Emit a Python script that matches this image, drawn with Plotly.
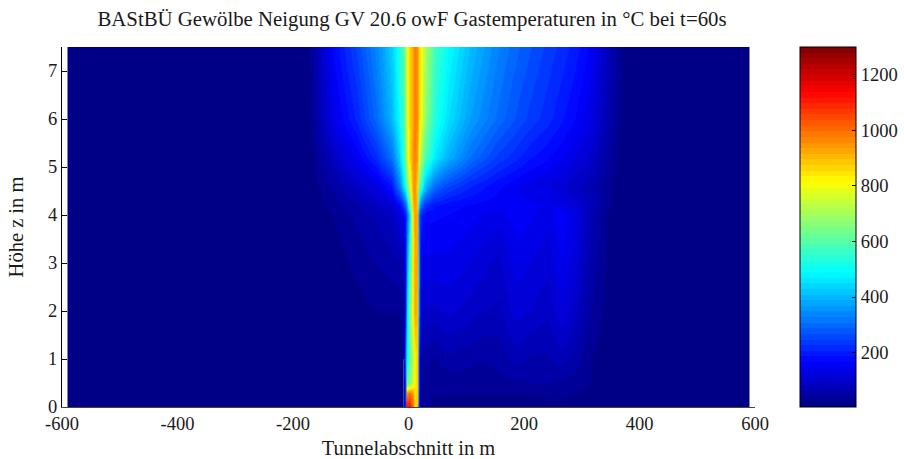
import plotly.graph_objects as go

title_text = "BAStBÜ Gewölbe Neigung GV 20.6 owF Gastemperaturen in °C bei t=60s"
x_label = "Tunnelabschnitt in m"
y_label = "Höhe z in m"
x_ticks = [-600, -400, -200, 0, 200, 400, 600]
x_tick_text = ["-600", "-400", "-200", "0", "200", "400", "600"]
y_ticks = [0, 1, 2, 3, 4, 5, 6, 7]
cbar_ticks = [200, 400, 600, 800, 1000, 1200]
t_min = 4
t_max = 1300

x_pos = [-590,-589,-300,-175,-130,-90,-55,-30,-15,-8,-6,-3,2,7,11,15,18,20,28,45,70,105,130,155,185,210,240,265,290,315,350,375,589,590]
z_pos = [0, 0.3, 0.5, 1, 2, 3, 4, 4.2, 4.6, 5.2, 6, 7.5]
row_00 = [4,4,4,4,4,4,4,4,4,20,280,1120,1120,1020,860,900,250,30,30,20,20,15,15,15,15,15,15,15,15,10,4,4,4,4]
row_03 = [4,4,4,4,4,4,4,4,4,25,300,950,1000,950,850,880,280,40,30,25,25,25,25,25,25,25,30,30,25,15,4,4,4,4]
row_05 = [4,4,4,4,4,4,4,4,4,30,300,620,650,740,830,880,300,50,30,30,30,35,35,40,40,45,45,40,35,25,6,4,4,4]
row_10 = [4,4,4,4,4,4,4,4,4,30,350,480,600,720,820,880,300,60,50,40,60,50,45,50,75,60,60,75,55,25,6,4,4,4]
row_20 = [4,4,4,4,5,15,25,25,25,40,200,430,630,800,930,900,400,110,100,100,110,95,85,80,115,105,90,120,90,45,10,4,4,4]
row_30 = [4,4,4,4,12,30,45,55,65,80,170,350,560,800,930,920,420,140,140,140,140,125,110,100,135,125,110,145,115,60,12,4,4,4]
row_40 = [4,4,4,4,25,50,70,90,120,150,200,280,450,820,940,920,350,220,170,170,165,155,145,135,160,150,135,165,130,70,15,4,4,4]
row_42 = [4,4,4,4,35,60,85,110,170,240,300,360,600,880,950,880,480,300,230,190,175,165,160,155,150,150,145,135,110,80,25,4,4,4]
row_46 = [4,4,4,4,50,90,130,190,330,460,530,620,760,930,970,850,640,580,420,300,250,210,190,170,150,135,125,110,90,70,25,5,4,4]
row_52 = [4,4,4,5,90,150,220,310,440,560,640,760,860,940,975,930,780,720,600,470,390,310,275,240,215,190,170,150,125,100,40,8,4,4]
row_60 = [4,4,4,10,140,210,300,400,500,590,660,770,870,930,980,950,860,810,680,530,450,370,335,300,265,240,215,190,165,130,55,10,4,4]
row_75 = [4,4,4,15,170,250,340,430,530,600,680,780,870,930,980,950,870,820,720,570,490,410,370,330,295,270,240,220,195,160,65,12,4,4]
temps = [row_00,row_03,row_05,row_10,row_20,row_30,row_40,row_42,row_46,row_52,row_60,row_75]

streak_x = [-8.5, -8.5]
streak_z = [0, 1]


def jet(v):
    r = min(4*v-1.5, -4*v+4.5)
    g = min(4*v-0.5, -4*v+3.5)
    b = min(4*v+0.5, -4*v+2.5)
    return "rgb(%d,%d,%d)" % tuple(round(255*max(0, min(1, c))) for c in (r, g, b))


levels = 64
scale = []
for i in range(levels):
    col = jet((i+0.5)/levels)
    scale += [[i/levels, col], [(i+1)/levels, col]]

FONT = "Liberation Serif"
INK = "#1a1a1a"

fig = go.Figure()
fig.add_trace(go.Heatmap(
    x=x_pos, y=z_pos, z=temps, zmin=t_min, zmax=t_max, zsmooth="best",
    colorscale=scale, hoverinfo="skip",
    colorbar=dict(
        x=(800-62)/693, xanchor="left", thickness=56, thicknessmode="pixels",
        y=0, yanchor="bottom", len=1, lenmode="fraction",
        tickvals=cbar_ticks, ticks="inside", ticklen=4, tickcolor="black", tickwidth=1,
        outlinecolor="black", outlinewidth=1,
        xpad=0, ypad=0,
        tickfont=dict(family=FONT, size=18.5, color=INK),
    ),
))
fig.add_trace(go.Scatter(x=streak_x, y=streak_z, mode="lines", hoverinfo="skip", showlegend=False,
                         line=dict(color="rgba(90,100,160,0.7)", width=1)))
fig.update_layout(
    width=904, height=459, margin=dict(l=62, r=149, t=47, b=52, autoexpand=False),
    paper_bgcolor="white", plot_bgcolor="white", showlegend=False,
    title=dict(text=title_text, x=412/904, xanchor="center", y=1-19/459, yanchor="middle",
               font=dict(family=FONT, size=20.8, color=INK)),
    xaxis=dict(range=[-600, 600], tickvals=x_ticks, ticktext=x_tick_text, ticks="inside", ticklen=5, tickcolor="black",
               showgrid=False, zeroline=False, showline=True, linecolor="#444", linewidth=1,
               layer="below traces", automargin=False, tickfont=dict(family=FONT, size=18.5, color=INK),
               title=dict(text=x_label, standoff=11, font=dict(family=FONT, size=20.5, color=INK))),
    yaxis=dict(range=[0, 7.5], tickvals=y_ticks, ticks="inside", ticklen=5, tickcolor="black",
               showgrid=False, zeroline=False, showline=True, linecolor="black", linewidth=1,
               layer="below traces", automargin=False, tickfont=dict(family=FONT, size=18.5, color=INK),
               title=dict(text=y_label, standoff=18, font=dict(family=FONT, size=20.5, color=INK))),
)
fig.write_html("out.html", config={"displayModeBar": False}, post_script="document.body.style.margin='0';")
